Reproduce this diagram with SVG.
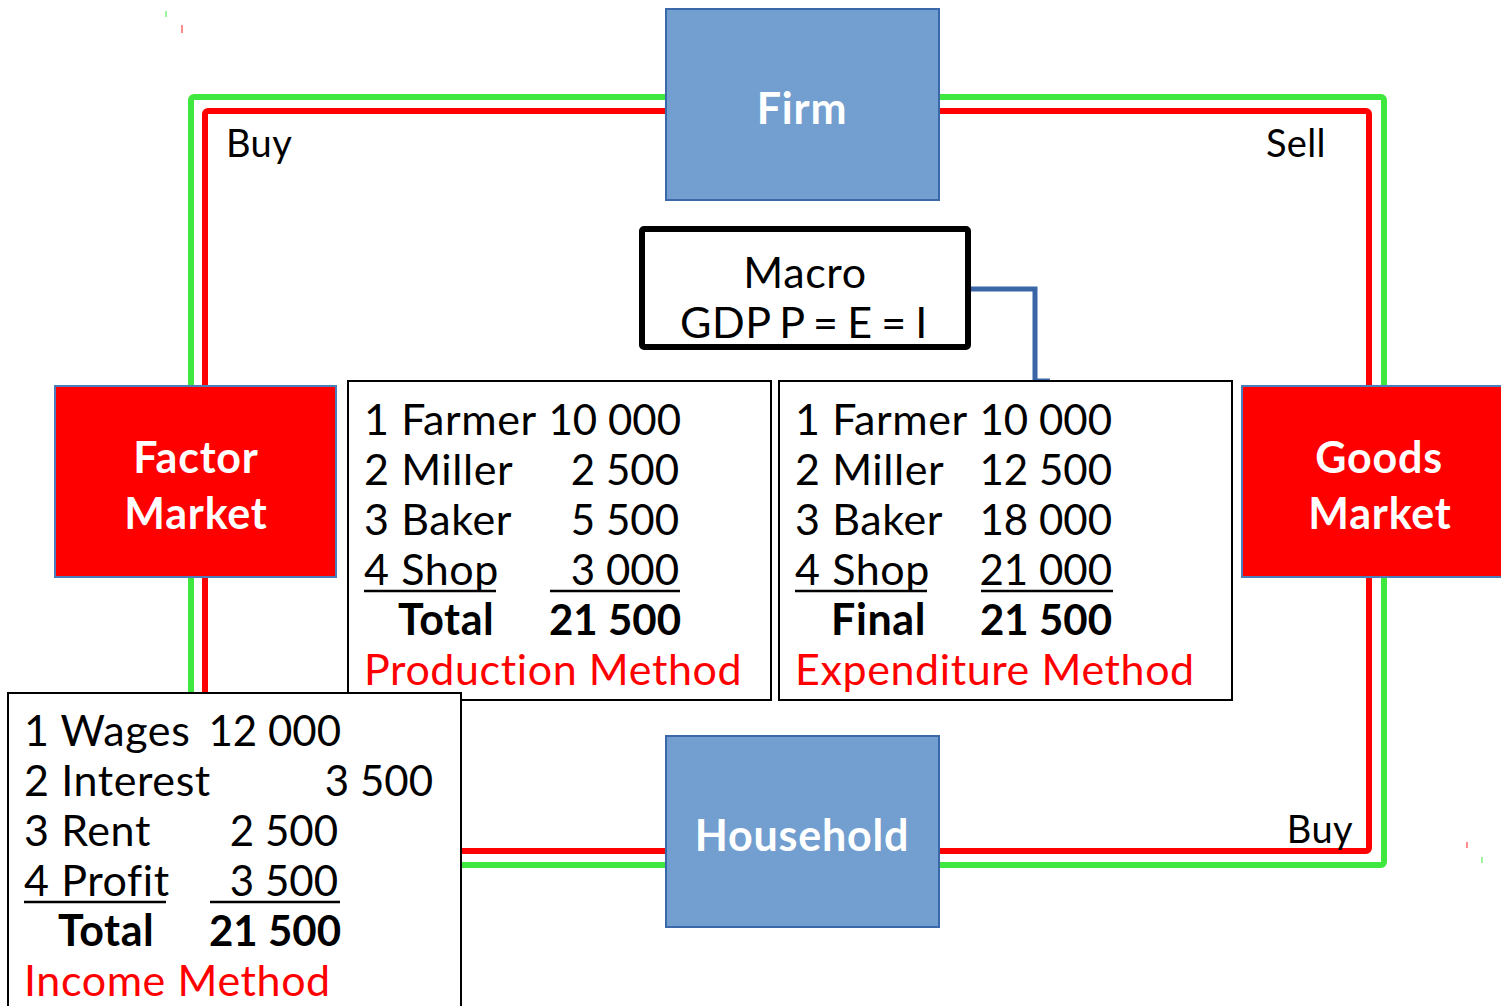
<svg xmlns="http://www.w3.org/2000/svg" width="1501" height="1006" viewBox="0 0 1501 1006">
  <style>
    .flow { fill: none; stroke-width: 6; stroke-linejoin: round; }
    .green { stroke: #3ee83e; }
    .red { stroke: #ff0000; }
    .agent { fill: #729fcf; stroke: #3a68a8; stroke-width: 2; }
    .market { fill: #ff0000; stroke: #4a7ebb; stroke-width: 2; }
    .title { font-family: Lato, "Noto Sans", sans-serif; font-weight: bold; font-size: 43px; letter-spacing: 0.8px; fill: #ffffff; text-anchor: middle; }
    .panel { fill: #ffffff; stroke: #000000; stroke-width: 2; }
    .t { font-family: Lato, "Noto Sans", sans-serif; font-size: 43px; letter-spacing: 0.6px; fill: #000000; }
    .num { text-anchor: end; font-size: 42px; letter-spacing: 0; }
    .b { font-weight: bold; }
    .method { fill: #ff0000; }
    .ul { stroke: #000000; stroke-width: 2.5; }
    .side { font-family: Lato, "Noto Sans", sans-serif; font-size: 38px; letter-spacing: 0.4px; fill: #000000; }
  </style>

  <!-- circular flow loops -->
  <g id="connectors">
    <rect class="flow green" x="191" y="97" width="1193" height="768" rx="3"/>
    <rect class="flow red" x="205" y="111" width="1164" height="740" rx="3"/>
    <polyline points="968,289 1035,289 1035,381 1050,381" fill="none" stroke="#3a66a6" stroke-width="5"/>
    <line x1="166" y1="11" x2="166" y2="17" stroke="#7ef07e" stroke-width="1.5"/>
    <line x1="182" y1="25" x2="182" y2="33" stroke="#ff6666" stroke-width="1.5"/>
    <line x1="1467" y1="842" x2="1467" y2="848" stroke="#ff6666" stroke-width="1.5"/>
    <line x1="1482" y1="857" x2="1482" y2="863" stroke="#7ef07e" stroke-width="1.5"/>
  </g>

  <g id="label-buy-top"><text class="side" x="226" y="157">Buy</text></g>
  <g id="label-sell"><text class="side" x="1326" y="157" text-anchor="end">Sell</text></g>
  <g id="label-buy-bottom"><text class="side" x="1353" y="843" text-anchor="end">Buy</text></g>

  <g id="firm">
    <rect class="agent" x="666" y="9" width="273" height="191"/>
    <text class="title" x="802" y="124">Firm</text>
  </g>

  <g id="household">
    <rect class="agent" x="666" y="736" width="273" height="191"/>
    <text class="title" x="802" y="851">Household</text>
  </g>

  <g id="factor-market">
    <rect class="market" x="55" y="386" width="281" height="191"/>
    <text class="title" x="196" y="473">Factor</text>
    <text class="title" x="196" y="529">Market</text>
  </g>

  <g id="goods-market">
    <rect class="market" x="1242" y="386" width="270" height="191"/>
    <text class="title" x="1379" y="473">Goods</text>
    <text class="title" x="1380" y="529">Market</text>
  </g>

  <g id="macro">
    <rect x="642" y="229" width="326" height="118" rx="2" fill="#ffffff" stroke="#000000" stroke-width="6"/>
    <text class="t" x="805" y="288" text-anchor="middle">Macro</text>
    <text class="t" x="804" y="338" text-anchor="middle" letter-spacing="0" word-spacing="-3">GDP P = E = I</text>
  </g>

  <g id="production">
    <rect class="panel" x="348" y="381" width="423" height="319"/>
    <text class="t" x="364" y="435">1 Farmer</text><text class="t num" x="681" y="435">10 000</text>
    <text class="t" x="364" y="485">2 Miller</text><text class="t num" x="679" y="485">2 500</text>
    <text class="t" x="364" y="535">3 Baker</text><text class="t num" x="679" y="535">5 500</text>
    <text class="t" x="364" y="585">4 Shop</text><text class="t num" x="679" y="585">3 000</text>
    <line class="ul" x1="364" y1="591" x2="496" y2="591"/>
    <line class="ul" x1="550" y1="591" x2="680" y2="591"/>
    <text class="t b" x="398" y="635">Total</text><text class="t b num" x="681" y="635">21 500</text>
    <text class="t method" x="364" y="685">Production Method</text>
  </g>

  <g id="expenditure">
    <rect class="panel" x="779" y="381" width="453" height="319"/>
    <text class="t" x="795" y="435">1 Farmer</text><text class="t num" x="1112" y="435">10 000</text>
    <text class="t" x="795" y="485">2 Miller</text><text class="t num" x="1112" y="485">12 500</text>
    <text class="t" x="795" y="535">3 Baker</text><text class="t num" x="1112" y="535">18 000</text>
    <text class="t" x="795" y="585">4 Shop</text><text class="t num" x="1112" y="585">21 000</text>
    <line class="ul" x1="795" y1="591" x2="927" y2="591"/>
    <line class="ul" x1="981" y1="591" x2="1113" y2="591"/>
    <text class="t b" x="831" y="635">Final</text><text class="t b num" x="1112" y="635">21 500</text>
    <text class="t method" x="795" y="685">Expenditure Method</text>
  </g>

  <g id="income">
    <rect class="panel" x="8" y="693" width="453" height="330"/>
    <text class="t" x="24" y="746">1 Wages</text><text class="t num" x="341" y="746">12 000</text>
    <text class="t" x="24" y="796">2 Interest</text><text class="t num" x="433" y="796">3 500</text>
    <text class="t" x="24" y="846">3 Rent</text><text class="t num" x="338" y="846">2 500</text>
    <text class="t" x="24" y="896">4 Profit</text><text class="t num" x="338" y="896">3 500</text>
    <line class="ul" x1="24" y1="902" x2="166" y2="902"/>
    <line class="ul" x1="210" y1="902" x2="340" y2="902"/>
    <text class="t b" x="58" y="946">Total</text><text class="t b num" x="341" y="946">21 500</text>
    <text class="t method" x="24" y="996">Income Method</text>
  </g>
</svg>
